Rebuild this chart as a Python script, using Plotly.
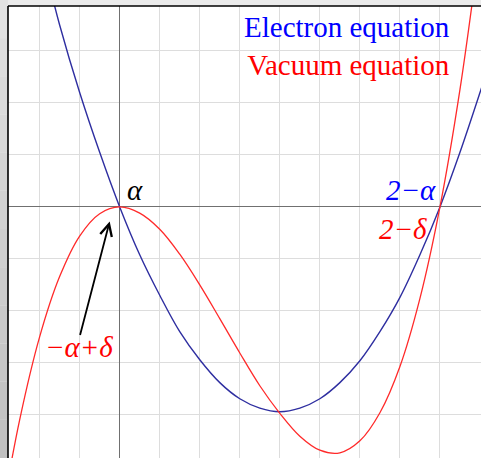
import plotly.graph_objects as go

# Sample points along each curve (x in grid units, origin at the alpha crossing)
x_electron = [-1.75, -1.5, -1.0, -0.5, 0.0, 0.5, 1.0, 1.5, 2.0, 2.5, 3.0, 3.5, 4.0,
              4.5, 5.0, 5.5, 6.0, 6.5, 7.0, 7.5, 8.0, 8.5, 9.0, 9.5]
y_electron = [4.25, 3.5, 2.2, 1.05, 0.0, -0.92, -1.7, -2.4, -2.94, -3.38, -3.69, -3.87, -3.94,
              -3.87, -3.69, -3.38, -2.96, -2.4, -1.74, -0.92, 0.0, 1.05, 2.2, 3.4]

x_vacuum = [-2.9, -2.5, -2.0, -1.5, -1.0, -0.5, 0.0, 0.5, 1.0, 1.5, 2.0, 2.5, 3.0, 3.5,
            4.0, 4.5, 5.0, 5.5, 6.0, 6.5, 7.0, 7.5, 8.0, 8.5, 9.0]
y_vacuum = [-5.73, -4.1, -2.5, -1.34, -0.56, -0.13, 0.0, -0.12, -0.43, -0.91, -1.5, -2.15,
            -2.81, -3.44, -3.97, -4.41, -4.68, -4.73, -4.5, -3.96, -3.07, -1.76, 0.0, 2.26, 5.06]

SERIF = "Liberation Serif, Times New Roman, DejaVu Serif, serif"
BLUE_LINE = "#2e2ea0"
RED_LINE = "#ff2a2a"

fig = go.Figure()
fig.add_trace(go.Scatter(x=x_electron, y=y_electron, mode="lines",
                         line=dict(color=BLUE_LINE, width=1.4, shape="spline"),
                         hoverinfo="skip"))
fig.add_trace(go.Scatter(x=x_vacuum, y=y_vacuum, mode="lines",
                         line=dict(color=RED_LINE, width=1.3, shape="spline"),
                         hoverinfo="skip"))

# Legend-like caption in the upper right
fig.add_annotation(x=8.3, y=3.09, xref="x", yref="y", xanchor="right", yanchor="middle",
                   align="right", showarrow=False,
                   text="<span style='color:#0000ff'>Electron equation</span><br>"
                        "<span style='color:#ff0000'>Vacuum equation</span>",
                   font=dict(family=SERIF, size=29))

# Root labels
fig.add_annotation(x=0.39, y=0.33, xanchor="center", yanchor="middle", showarrow=False,
                   text="<i>α</i>", font=dict(family=SERIF, size=29, color="black"))
fig.add_annotation(x=7.95, y=0.33, xanchor="right", yanchor="middle", showarrow=False,
                   text="<i>2−α</i>", font=dict(family=SERIF, size=29, color="#0000ff"))
fig.add_annotation(x=7.72, y=-0.42, xanchor="right", yanchor="middle", showarrow=False,
                   text="<i>2−δ</i>", font=dict(family=SERIF, size=29, color="#ff0000"))
fig.add_annotation(x=-1.01, y=-2.7, xanchor="center", yanchor="middle", showarrow=False,
                   text="<i>−α+δ</i>", font=dict(family=SERIF, size=29, color="#ff0000"))

# Arrow pointing at the double root
fig.add_annotation(x=-0.25, y=-0.28, ax=-30, ay=115, axref="pixel", ayref="pixel",
                   showarrow=True, arrowhead=5, arrowsize=1.3, arrowwidth=1.8,
                   arrowcolor="black", text="")

# Window frame: shaded strip on the left and dark edge lines
shapes = []
n_strip = 12
for i in range(n_strip):
    g = int(0xe2 - (0xe2 - 0xc0) * i / (n_strip - 1))
    col = f"rgb({g},{g},{g})"
    y1 = 1 + 6 / 452 - i * (1 + 6 / 452) / n_strip
    y0 = 1 + 6 / 452 - (i + 1) * (1 + 6 / 452) / n_strip
    shapes.append(dict(type="rect", xref="paper", yref="paper", x0=-8 / 473, x1=0,
                       y0=y0, y1=y1, fillcolor=col, line=dict(width=0), layer="above"))
shapes.append(dict(type="line", xref="paper", yref="paper", x0=0, x1=0, y0=0, y1=1,
                   line=dict(color="black", width=1.6)))
shapes.append(dict(type="line", xref="paper", yref="paper", x0=0, x1=1, y0=1, y1=1,
                   line=dict(color="black", width=1.6)))

axis_common = dict(showticklabels=False, ticks="", showgrid=True, gridcolor="#dddddd",
                   gridwidth=1.4, zeroline=True, zerolinecolor="#707070",
                   zerolinewidth=1.2, showline=False, fixedrange=True, dtick=1, tick0=0)

fig.update_layout(
    width=481, height=458,
    margin=dict(l=8, r=0, t=6, b=0),
    paper_bgcolor="#ebebeb",
    plot_bgcolor="white",
    showlegend=False,
    shapes=shapes,
    xaxis=dict(range=[-2.79, 9.025], **axis_common),
    yaxis=dict(range=[-4.83, 3.865], **axis_common),
)

fig.write_html("out.html", config={"displayModeBar": False})
